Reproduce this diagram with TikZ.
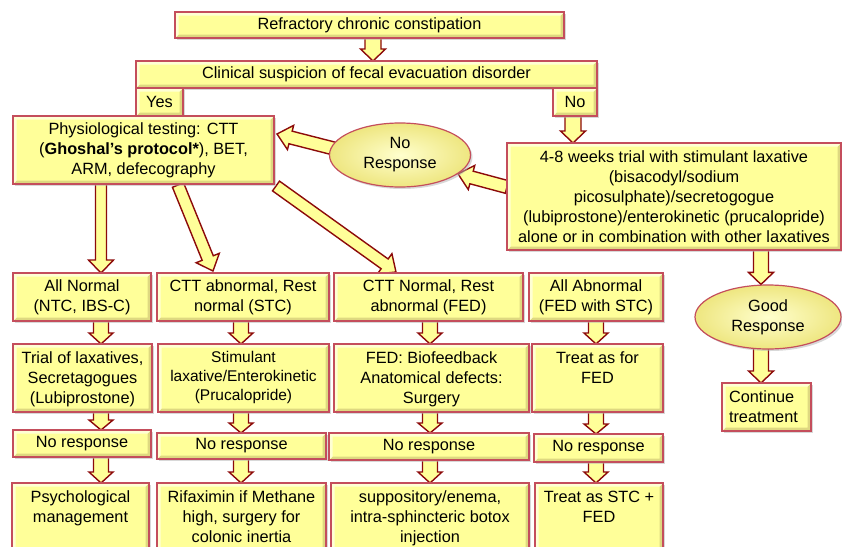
\documentclass[tikz,border=0pt]{standalone}
\usepackage{fontspec}
\setmainfont{Liberation Sans}
\usetikzlibrary{calc,shapes.geometric,shadows,backgrounds}
\definecolor{bfill}{RGB}{255,255,153}
\definecolor{bline}{RGB}{196,78,92}
\definecolor{aline}{RGB}{140,10,10}
\definecolor{bdark}{RGB}{222,216,128}
\definecolor{blight}{RGB}{255,255,212}
\definecolor{einner}{RGB}{255,255,205}
\definecolor{eouter}{RGB}{238,230,128}
\newcommand{\bcc}[3]{\begin{minipage}[c][#2pt][c]{#1pt}\centering #3\end{minipage}}
\newcommand{\bct}[3]{\begin{minipage}[c][#2pt][t]{#1pt}\centering\vspace*{5.5pt}\strut #3\end{minipage}}
\newcommand{\barr}[5]{%
  \coordinate (bah) at ($(#2)!#5pt!(#1)$);
  \draw[arw] ($(#1)!#3pt!90:(#2)$) -- ($(bah)!#3pt!90:(#2)$) -- ($(bah)!#4pt!90:(#2)$) -- (#2)
     -- ($(bah)!#4pt!-90:(#2)$) -- ($(bah)!#3pt!-90:(#2)$) -- ($(#1)!#3pt!-90:(#2)$) -- cycle;}
\tikzset{
  bx/.style={rectangle, draw=bline, line width=1.2pt, fill=bfill, inner sep=0pt, outer sep=0pt,
    drop shadow={shadow xshift=2pt,shadow yshift=-2pt,fill=black!30,opacity=0.5},
    path picture={
      \fill[bdark] (path picture bounding box.south west) -- (path picture bounding box.south east)
        -- (path picture bounding box.north east) -- ([xshift=-3.5pt,yshift=-3.5pt]path picture bounding box.north east)
        -- ([xshift=-3.5pt,yshift=3.5pt]path picture bounding box.south east)
        -- ([xshift=3.5pt,yshift=3.5pt]path picture bounding box.south west) -- cycle;
      \fill[blight] (path picture bounding box.south west) -- (path picture bounding box.north west)
        -- (path picture bounding box.north east) -- ([xshift=-3.5pt,yshift=-3.5pt]path picture bounding box.north east)
        -- ([xshift=3.5pt,yshift=-3.5pt]path picture bounding box.north west)
        -- ([xshift=3.5pt,yshift=3.5pt]path picture bounding box.south west) -- cycle;
    }},
  el/.style={ellipse, draw=bline, line width=1.2pt, inner sep=0pt, align=center,
    inner color=einner, outer color=eouter,
    drop shadow={shadow xshift=2pt,shadow yshift=-2pt,fill=black!30,opacity=0.5}},
  arw/.style={fill=bfill, draw=aline, line width=1.4pt, line join=miter},
}
\begin{document}
\begin{tikzpicture}[x=1pt,y=-1pt, every node/.append style={font=\fontsize{16.3}{20}\selectfont}]
\useasboundingbox (0,0) rectangle (842,546);

% top part
\node[bx] (top) at (369.5,25) {\bcc{389}{26}{Refractory chronic constipation}};
\node[bx] (clin) at (366.5,74.5) {\bcc{461}{27}{Clinical suspicion of fecal evacuation disorder}};
\node[bx] (yes) at (159.5,102) {\bcc{47}{28}{Yes}};
\node[bx] (no) at (575,102) {\bcc{44}{28}{No}};
\node[bx] (phys) at (143.5,150) {\bcc{261}{68}{Physiological testing: CTT\\(\textbf{Ghoshal’s protocol*}), BET,\\ARM, defecography}};
\node[el, minimum width=141pt, minimum height=64pt] (nr) at (400,155) {No\\Response};
\node[bx] (trial) at (674,196.5) {\bcc{334}{107}{4-8 weeks trial with stimulant laxative\\(bisacodyl/sodium\\picosulphate)/secretogogue\\(lubiprostone)/enterokinetic (prucalopride)\\alone or in combination with other laxatives}};
\node[el, minimum width=146pt, minimum height=64pt] (good) at (768,317) {Good\\Response};
\node[bx] (cont) at (766.5,407) {\begin{minipage}[c][48pt][c]{89pt}\raggedright\leftskip=7pt Continue\\treatment\end{minipage}};

% row 1
\node[bx] (r1c1) at (82,297) {\bcc{138}{48}{All Normal\\(NTC, IBS-C)}};
\node[bx] (r1c2) at (243,297) {\bcc{172}{48}{CTT abnormal, Rest\\normal (STC)}};
\node[bx] (r1c3) at (428.5,297) {\bcc{189}{48}{CTT Normal, Rest\\abnormal (FED)}};
\node[bx] (r1c4) at (596,297) {\bcc{134}{48}{All Abnormal\\(FED with STC)}};
% row 2
\node[bx] (r2c1) at (82.5,378) {\bct{139}{68}{Trial of laxatives,\\Secretagogues\\(Lubiprostone)}};
\node[bx] (r2c2) at (243.5,378) {\fontsize{15.5}{19}\selectfont\bct{171}{68}{Stimulant\\laxative/Enterokinetic\\(Prucalopride)}};
\node[bx] (r2c3) at (431.5,378) {\bct{195}{68}{FED: Biofeedback\\Anatomical defects:\\Surgery}};
\node[bx] (r2c4) at (597.5,378) {\bct{131}{68}{Treat as for\\FED}};
% row 3
\node[bx] (r3c1) at (82,443.5) {\bcc{138}{27}{No response}};
\node[bx] (r3c2) at (241.5,446) {\bcc{169}{26}{No response}};
\node[bx] (r3c3) at (429,446.5) {\bcc{200}{27}{No response}};
\node[bx] (r3c4) at (598.5,448) {\bcc{129}{28}{No response}};
% row 4
\node[bx] (r4c1) at (80.5,523) {\bct{137}{80}{Psychological\\management}};
\node[bx] (r4c2) at (241.5,523) {\bct{169}{80}{Rifaximin if Methane\\high, surgery for\\colonic inertia}};
\node[bx] (r4c3) at (430,523) {\bct{198}{80}{suppository/enema,\\intra-sphincteric botox\\injection}};
\node[bx] (r4c4) at (599,523) {\bct{128}{80}{Treat as STC +\\FED}};

% arrow x positions
\coordinate (xt) at (373,0);
\coordinate (xn) at (573,0);
\coordinate (xg) at (761,0);
\coordinate (x1) at (101,0);
\coordinate (x2) at (241,0);
\coordinate (x3) at (430,0);
\coordinate (x4) at (596,0);

\coordinate (a1s) at (top.south -| xt);   \coordinate (a1e) at (clin.north -| xt);
\coordinate (a2s) at (no.south -| xn);    \coordinate (a2e) at (trial.north -| xn);
\coordinate (a3s) at (phys.south -| x1);  \coordinate (a3e) at (r1c1.north -| x1);
\coordinate (a4s) at ($(phys.south west)+(165,1)$); \coordinate (a4e) at ($(r1c2.north west)+(56,-2)$);
\coordinate (a5s) at ($(phys.south east)+(2,2)$);   \coordinate (a5e) at ($(r1c3.north west)+(62,-1)$);
\coordinate (a6e) at ($(phys.north east)+(3,18)$);
\coordinate (a6s) at ($(nr.174)!-5pt!(a6e)$);
\coordinate (a7s) at ($(trial.north west)+(0,44)$); \coordinate (a7e) at (nr.-18);
\coordinate (a8s) at (trial.south -| xg); \coordinate (a8e) at (good.north -| xg);
\coordinate (a9s) at ($(good.south -| xg)+(0,-3)$);  \coordinate (a9e) at (cont.north -| xg);

\begin{pgfonlayer}{background}
\fill[white] (0,0) rectangle (842,546);
\barr{a1s}{a1e}{8}{12.5}{12}
\barr{a2s}{a2e}{8}{12.5}{12}
\barr{a3s}{a3e}{5.5}{12.5}{13}
\barr{a4s}{a4e}{6}{12.5}{14}
\barr{a5s}{a5e}{6}{12.5}{14}
\barr{a6s}{a6e}{6.5}{12.5}{14}
\barr{a7s}{a7e}{6.5}{12.5}{14}
\barr{a8s}{a8e}{7.5}{12.5}{12}
\barr{a9s}{a9e}{7.5}{12.5}{12}
\foreach \c/\xx in {1/x1,2/x2,3/x3,4/x4}{
  \coordinate (p) at (r1c\c.south -| \xx); \coordinate (q) at (r2c\c.north -| \xx);
  \barr{p}{q}{7.5}{12}{11}
  \coordinate (p) at (r2c\c.south -| \xx); \coordinate (q) at (r3c\c.north -| \xx);
  \barr{p}{q}{7.5}{12}{10}
  \coordinate (p) at (r3c\c.south -| \xx); \coordinate (q) at (r4c\c.north -| \xx);
  \barr{p}{q}{7.5}{12}{11}
}
\end{pgfonlayer}
\end{tikzpicture}
\end{document}
